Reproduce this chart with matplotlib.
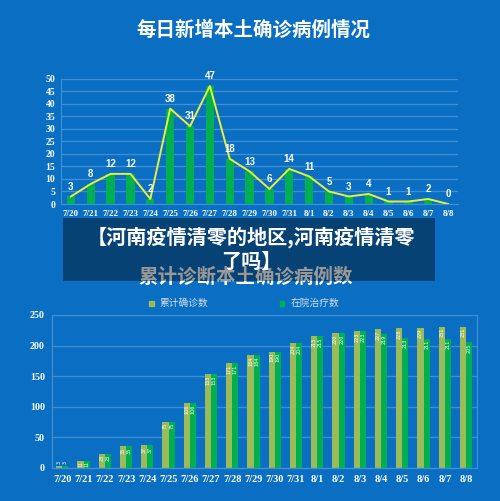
import matplotlib
matplotlib.use("Agg")
import matplotlib.pyplot as plt
from matplotlib.patches import Rectangle
import numpy as np

dates = ["7/20", "7/21", "7/22", "7/23", "7/24", "7/25", "7/26", "7/27", "7/28", "7/29",
         "7/30", "7/31", "8/1", "8/2", "8/3", "8/4", "8/5", "8/6", "8/7", "8/8"]
daily_new = [3, 8, 12, 12, 2, 38, 31, 47, 18, 13, 6, 14, 11, 5, 3, 4, 1, 1, 2, 0]
cumulative = [3, 11, 23, 35, 37, 75, 106, 153, 171, 184, 190, 204, 215, 220, 223, 227, 228, 229, 231, 231]
in_hospital = [3, 11, 23, 35, 37, 75, 106, 153, 171, 184, 190, 204, 215, 220, 223, 219, 213, 211, 211, 205]

title1 = "每日新增本土确诊病例情况"
title2 = "累计诊断本土确诊病例数"
banner = "【河南疫情清零的地区,河南疫情清零\n了吗】"
legend_labels = ["累计确诊数", "在院治疗数"]

BG = "#0a6fc2"
GRID = "#3f8fd6"
GREEN = "#00b050"
OLIVE = "#9bbb59"
YELLOW = "#e8f03a"
CJK = ["Noto Sans CJK SC", "DejaVu Sans"]
SERIF = ["Liberation Serif", "DejaVu Serif"]
NARROW = ["Liberation Sans Narrow", "Liberation Sans", "DejaVu Sans"]

fig = plt.figure(figsize=(5.0, 5.01), dpi=100, facecolor=BG)

# ---------- top chart ----------
ax1 = fig.add_axes([0.122, 0.5928, 0.794, 0.2505])
ax1.set_facecolor(BG)
x = np.arange(len(dates))
ax1.bar(x, daily_new, width=0.42, color=GREEN, zorder=2)
ax1.plot(x, daily_new, color=YELLOW, lw=1.4, zorder=3)
for xi, v in zip(x, daily_new):
    ax1.annotate(str(v), (xi, v), xytext=(0, 3.5), textcoords="offset points",
                 ha="center", va="bottom", color="white", fontsize=7,
                 fontweight="bold", family=NARROW, zorder=4)
ax1.set_xlim(-0.5, len(dates) - 0.5)
ax1.set_ylim(0, 50)
ax1.set_yticks(np.arange(0, 51, 5))
ax1.set_xticks(x)
ax1.set_xticklabels(dates)
ax1.grid(axis="y", color=GRID, lw=0.9, zorder=0)
ax1.set_axisbelow(True)
for s in ["top", "right"]:
    ax1.spines[s].set_visible(False)
ax1.spines["left"].set_color(GRID)
ax1.spines["bottom"].set_color(GRID)
ax1.tick_params(length=0, colors="white", pad=4)
for lab in ax1.get_yticklabels():
    lab.set_fontsize(7); lab.set_fontweight("bold"); lab.set_family(SERIF)
for lab in ax1.get_xticklabels():
    lab.set_fontsize(6.5); lab.set_fontweight("bold"); lab.set_family(SERIF)

fig.text(0.506, 0.94, title1, ha="center", va="center", color="white",
         fontsize=14, fontweight="bold", family=CJK)

# ---------- bottom chart ----------
ax2 = fig.add_axes([0.1034, 0.0665, 0.85, 0.3048])
ax2.set_facecolor(BG)
w = 0.29
b1 = ax2.bar(x - w / 2, cumulative, width=w, color=OLIVE, zorder=2)
b2 = ax2.bar(x + w / 2, in_hospital, width=w, color=GREEN, zorder=2)
for xi, v in zip(x, cumulative):
    ax2.text(xi - w / 2, max(v - 2, 11), str(v), rotation=90, ha="center", va="top",
             color="white", fontsize=3.5, zorder=4)
for xi, v in zip(x, in_hospital):
    ax2.text(xi + w / 2, max(v - 2, 11), str(v), rotation=90, ha="center", va="top",
             color="white", fontsize=3.5, zorder=4)
ax2.set_xlim(-0.5, len(dates) - 0.5)
ax2.set_ylim(0, 250)
ax2.set_yticks(np.arange(0, 251, 50))
ax2.set_xticks(x)
ax2.set_xticklabels(dates)
ax2.grid(axis="y", color=GRID, lw=0.9, zorder=0)
ax2.set_axisbelow(True)
for s in ax2.spines.values():
    s.set_color(GRID)
    s.set_linewidth(0.9)
ax2.tick_params(length=0, colors="white", pad=5)
for lab in ax2.get_yticklabels():
    lab.set_fontsize(7.2); lab.set_fontweight("bold"); lab.set_family(SERIF)
for lab in ax2.get_xticklabels():
    lab.set_fontsize(7.5); lab.set_fontweight("bold"); lab.set_family(SERIF)

fig.text(0.492, 1 - 277 / 501, title2, ha="center", va="center", color="white",
         fontsize=14, fontweight="bold", family=CJK, zorder=1)

# legend
for (cx, col), lab in zip([(151.3, OLIVE), (282.2, GREEN)], legend_labels):
    fig.add_artist(Rectangle(((cx - 2.3) / 500, 1 - 305.6 / 501), 4.6 / 500, 4.6 / 501,
                             transform=fig.transFigure, color=col))
    fig.text((cx + 8) / 500, 1 - 303.3 / 501, lab, ha="left", va="center",
             color="#d3deea", fontsize=7, family=CJK)

# banner overlay
fig.add_artist(Rectangle((63 / 500, 1 - 281 / 501), (435 - 63) / 500, (281 - 218) / 501,
                         transform=fig.transFigure, facecolor="black", alpha=0.4,
                         edgecolor="none", zorder=10))
fig.text(0.502, 1 - 249 / 501, banner, ha="center", va="center", color="white",
         fontsize=14.5, fontweight="bold", family=CJK, zorder=11, linespacing=1.2)

fig.savefig("out.png", dpi=100, facecolor=BG)
